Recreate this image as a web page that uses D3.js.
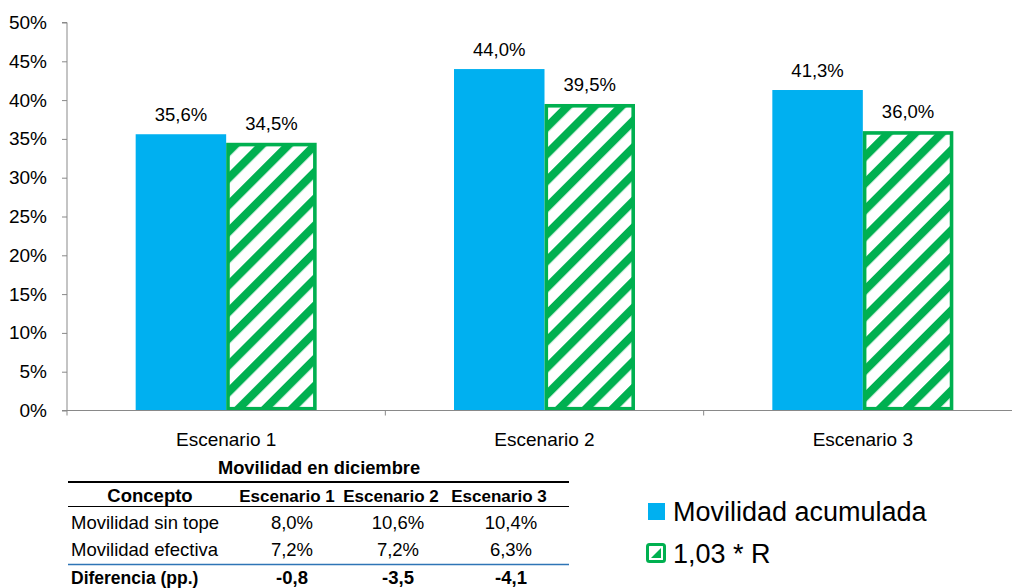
<!DOCTYPE html>
<html>
<head>
<meta charset="utf-8">
<script src="https://cdn.jsdelivr.net/npm/d3@7"></script>
<style>
  html, body { margin: 0; padding: 0; background: #fff; }
  svg { display: block; font-family: "Liberation Sans", Arial, sans-serif; }
</style>
</head>
<body>
<svg id="chart" width="1012" height="588"></svg>
<script>
// ---- data ----
const categories = ["Escenario 1", "Escenario 2", "Escenario 3"];
const seriesNames = ["Movilidad acumulada", "1,03 * R"];
const movilidadAcumulada = [35.6, 44.0, 41.3];
const r103 = [34.5, 39.5, 36.0];
const yTicks = [0, 5, 10, 15, 20, 25, 30, 35, 40, 45, 50];

const tableTitle = "Movilidad en diciembre";
const tableHeader = ["Concepto", "Escenario 1", "Escenario 2", "Escenario 3"];
const rowSinTope = ["Movilidad sin tope", "8,0%", "10,6%", "10,4%"];
const rowEfectiva = ["Movilidad efectiva", "7,2%", "7,2%", "6,3%"];
const rowDiferencia = ["Diferencia (pp.)", "-0,8", "-3,5", "-4,1"];

const fmt = v => v.toFixed(1).replace(".", ",") + "%";

// ---- layout ----
const svg = d3.select("#chart");
const blue = "#00B0F0", green = "#00B050", axisGray = "#898989";

const x = d3.scaleBand().domain(categories).range([67, 1022]).paddingInner(0).paddingOuter(0);
const y = d3.scaleLinear().domain([0, 50]).range([410.5, 22.5]);
const barW = 90.5;

// hatch pattern
const defs = svg.append("defs");
const pat = defs.append("pattern")
  .attr("id", "hatch")
  .attr("patternUnits", "userSpaceOnUse")
  .attr("width", 18.9).attr("height", 18.9)
  .attr("patternTransform", "rotate(45)");
pat.append("rect").attr("width", 18.9).attr("height", 18.9).attr("fill", "#fff");
pat.append("rect").attr("x", 0).attr("width", 8.2).attr("height", 18.9).attr("fill", green);

// y axis
const yAxis = d3.axisLeft(y).tickValues(yTicks).tickSize(5).tickPadding(15).tickFormat(d => d + "%");
const gy = svg.append("g").attr("transform", "translate(67,0)").call(yAxis);
gy.select(".domain").attr("stroke", axisGray).attr("d", `M-5,${y(50)}H0V${y(0)}`);
gy.selectAll(".tick line").attr("stroke", axisGray);
gy.selectAll(".tick text").attr("fill", "#000").style("font-size", "19px")
  .style("font-family", "'Liberation Sans', Arial, sans-serif");

// bars
const groups = svg.append("g").selectAll("g").data(categories).join("g");
groups.append("rect")
  .attr("x", (d) => x(d) + x.bandwidth() / 2 - barW)
  .attr("y", (d, i) => y(movilidadAcumulada[i]))
  .attr("width", barW)
  .attr("height", (d, i) => y(0) - y(movilidadAcumulada[i]))
  .attr("fill", blue);
const sw = 3.6;
groups.append("rect")
  .attr("x", (d) => x(d) + x.bandwidth() / 2 + sw / 2)
  .attr("y", (d, i) => y(r103[i]) + sw / 2)
  .attr("width", barW - sw)
  .attr("height", (d, i) => y(0) - y(r103[i]) - sw)
  .attr("fill", "url(#hatch)")
  .attr("stroke", green)
  .attr("stroke-width", sw);

// x axis
const xAxis = d3.axisBottom(x).tickSize(0).tickPadding(22);
const gx = svg.append("g").attr("transform", `translate(0,${y(0)})`).call(xAxis);
gx.select(".domain").attr("stroke", axisGray).attr("d", `M62,0H1022`);
gx.selectAll(".tick text").attr("fill", "#000").style("font-size", "19px")
  .style("font-family", "'Liberation Sans', Arial, sans-serif");
// category boundary ticks
svg.append("g").selectAll("line")
  .data(categories.map(c => x(c)))
  .join("line")
  .attr("x1", d => d).attr("x2", d => d)
  .attr("y1", y(0)).attr("y2", y(0) + 5)
  .attr("stroke", axisGray);

// data labels
groups.append("text")
  .attr("x", d => x(d) + x.bandwidth() / 2 - barW / 2)
  .attr("y", (d, i) => y(movilidadAcumulada[i]) - 13)
  .attr("text-anchor", "middle").style("font-size", "18.5px")
  .text((d, i) => fmt(movilidadAcumulada[i]));
groups.append("text")
  .attr("x", d => x(d) + x.bandwidth() / 2 + barW / 2)
  .attr("y", (d, i) => y(r103[i]) - 13)
  .attr("text-anchor", "middle").style("font-size", "18.5px")
  .text((d, i) => fmt(r103[i]));

// ---- table ----
const tbl = svg.append("g").style("font-size", "18.5px");
tbl.append("text").attr("x", 319).attr("y", 473.5).attr("text-anchor", "middle")
  .style("font-weight", "bold").style("font-size", "18.3px").text(tableTitle);
tbl.append("line").attr("x1", 68).attr("x2", 569).attr("y1", 482).attr("y2", 482)
  .attr("stroke", "#000").attr("stroke-width", 2.2);
const headX = [150, 287, 391, 499];
tbl.selectAll("text.h").data(tableHeader).join("text").attr("class", "h")
  .attr("x", (d, i) => headX[i]).attr("y", 501.5).attr("text-anchor", "middle")
  .style("font-weight", "bold").style("font-size", (d, i) => i === 0 ? "18.5px" : "17px")
  .text(d => d);
tbl.append("line").attr("x1", 68).attr("x2", 569).attr("y1", 506.5).attr("y2", 506.5)
  .attr("stroke", "#000").attr("stroke-width", 1);
const valX = [292, 398, 511];
const rows = [rowSinTope, rowEfectiva, rowDiferencia];
const rowY = [528.5, 555.5, 583.5];
rows.forEach((row, ri) => {
  const bold = ri === 2;
  row.forEach((cell, ci) => {
    tbl.append("text")
      .attr("x", ci === 0 ? 71 : valX[ci - 1])
      .attr("y", rowY[ri])
      .attr("text-anchor", ci === 0 ? "start" : "middle")
      .style("font-weight", bold ? "bold" : "normal")
      .style("font-size", bold && ci === 0 ? "17.5px" : null)
      .text(cell);
  });
});
tbl.append("line").attr("x1", 68).attr("x2", 569).attr("y1", 564.5).attr("y2", 564.5)
  .attr("stroke", "#2E75B6").attr("stroke-width", 1.5);

// ---- legend ----
const leg = svg.append("g");
leg.append("rect").attr("x", 648).attr("y", 503).attr("width", 17).attr("height", 17).attr("fill", blue);
leg.append("text").attr("x", 673).attr("y", 521).style("font-size", "27px").text(seriesNames[0]);
leg.append("rect").attr("x", 647.5).attr("y", 544.5).attr("width", 17).attr("height", 17)
  .attr("rx", 2).attr("fill", "#fff").attr("stroke", green).attr("stroke-width", 3);
leg.append("path").attr("d", "M651,558 L661,548 L661,558 Z").attr("fill", green);
leg.append("text").attr("x", 673).attr("y", 563).style("font-size", "27px").text(seriesNames[1]);
</script>
</body>
</html>
